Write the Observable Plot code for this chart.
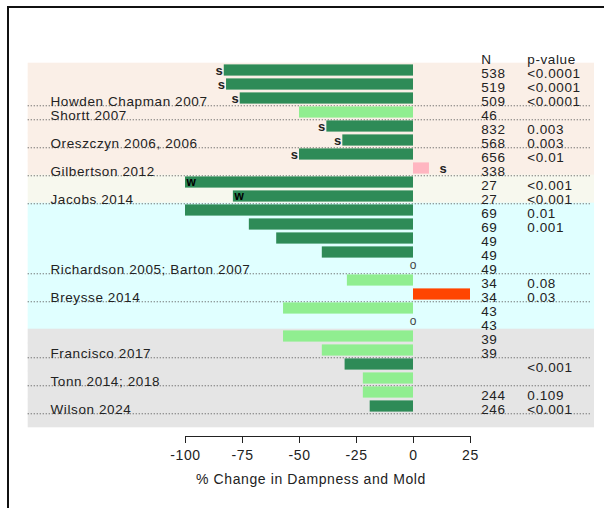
<!DOCTYPE html>
<html><head><meta charset="utf-8">
<script src="https://cdn.jsdelivr.net/npm/d3@7"></script>
<script src="https://cdn.jsdelivr.net/npm/@observablehq/plot@0.6"></script>
<style>
body{margin:0;background:#fff;}
#wrap{position:relative;width:604px;height:508px;overflow:hidden;}
#border{position:absolute;left:7px;top:6px;width:700px;height:700px;border-left:2px solid #111;border-top:2px solid #111;pointer-events:none;}
</style></head><body><div id="wrap"><div id="border"></div></div>
<script>
// ---- data ----
const rows = d3.range(1, 26);
const nValues = ["538","519","509","46","832","568","656","338","27","27","69","69","49","49","49","34","34","43","43","39","39","","","244","246"];
const pValues = ["<0.0001","<0.0001","<0.0001","","0.003","0.003","<0.01","","<0.001","<0.001","0.01","0.001","","","","0.08","0.03","","","","","<0.001","","0.109","<0.001"];
const changes = [-83,-82,-76,-50,-38,-31,-50,7,-100,-79,-100,-72,-60,-40,null,-29,25,-57,null,-57,-40,-30,-22,-22,-19];
const barKinds = ["sig","sig","sig","ns","sig","sig","sig","pos","sig","sig","sig","sig","sig","sig",null,"ns","neg","ns",null,"ns","ns","sig","ns","ns","sig"];
const studyLabels = ["Howden Chapman 2007","Shortt 2007","Oreszczyn 2006, 2006","Gilbertson 2012","Jacobs 2014","Richardson 2005; Barton 2007","Breysse 2014","Francisco 2017","Tonn 2014; 2018","Wilson 2024"];
const labelRows = [3,4,6,8,10,15,17,21,23,25];
const markerRows = [1,2,3,5,6,7,8,9,10,15,19];
const markerText = ["s","s","s","s","s","s","s","w","w","o","o"];
const panelNames = ["beige","cream","cyan","gray"];
const panelFirst = [1,9,11,20];
const panelLast = [8,10,19,26];
const xTicks = [-100,-75,-50,-25,0,25];
const headers = ["N","p-value"];

// ---- styling / layout ----
const kindColor = {sig:"#2e8b57", ns:"#90ee90", pos:"#ffb6c1", neg:"#ff4500"};
const panelColor = {beige:"#faefe7", cream:"#f7f8ee", cyan:"#e0ffff", gray:"#e5e5e5"};
const bgX1 = -169, bgX2 = 79.4;      // background span in data units
const labelX = -159.2, nX = 29.7, pX = 49.9;

const table = rows.map((r, i) => ({row: r, n: nValues[i], p: pValues[i], value: changes[i], kind: barKinds[i]}));
const bars = table.filter(d => d.value != null);
const bgRows = [];
panelNames.forEach((p, i) => { for (let r = panelFirst[i]; r <= panelLast[i]; r++) bgRows.push({row: r, panel: p}); });
const labels = studyLabels.map((s, i) => ({row: labelRows[i], text: s}));
const markers = markerRows.map((r, i) => ({row: r, text: markerText[i], value: changes[r - 1] ?? 0}));
const headerData = headers.map((h, i) => ({row: 0, text: h, x: i === 0 ? nX : pX}));

const txt = {fontSize: 13.5, fill: "#222", textAnchor: "start", dy: 3};

const chart = Plot.plot({
  width: 604, height: 508,
  marginLeft: 185, marginRight: 134, marginTop: 41.4, marginBottom: 74,
  style: {fontFamily: "'Liberation Sans', Arial, sans-serif", fontSize: "14px", letterSpacing: "0.6px", background: "transparent", color: "#222"},
  x: {domain: [-100, 25]},
  y: {type: "band", domain: d3.range(0, 27), padding: 0, axis: null},
  marks: [
    Plot.barX(bgRows, {y: "row", x1: bgX1, x2: bgX2, fill: d => panelColor[d.panel], insetTop: -0.3, insetBottom: -0.3}),
    Plot.ruleY(labelRows, {y: d => d, x1: bgX1, x2: bgX2 - 1.5, dy: 7.27, stroke: "#666", strokeWidth: 1, strokeDasharray: "1.2,1.8"}),
    Plot.barX(bars, {y: "row", x1: 0, x2: "value", fill: d => kindColor[d.kind], insetTop: 1.4, insetBottom: 1.4}),
    Plot.text(markers.filter(d => d.text === "s" && d.value < 0), {y: "row", x: "value", text: "text", textAnchor: "end", dx: -1, fontSize: 13, fontWeight: 600, fill: "#222"}),
    Plot.text(markers.filter(d => d.text === "s" && d.value > 0), {y: "row", x: "value", text: "text", textAnchor: "start", dx: 10, fontSize: 13, fontWeight: 600, fill: "#222"}),
    Plot.text(markers.filter(d => d.text === "w"), {y: "row", x: "value", text: "text", textAnchor: "start", dx: 1, fontSize: 12, fontWeight: "bold", fill: "#000"}),
    Plot.text(markers.filter(d => d.text === "o"), {y: "row", x: "value", text: "text", textAnchor: "middle", dy: -1, fontSize: 12, fill: "#444"}),
    Plot.text(labels, {...txt, y: "row", x: labelX, text: "text"}),
    Plot.text(table, {...txt, y: "row", x: nX, text: "n"}),
    Plot.text(table, {...txt, y: "row", x: pX, text: "p"}),
    Plot.text(headerData, {...txt, y: "row", x: "x", text: "text"}),
    Plot.frame({anchor: "bottom", dy: 2, stroke: "#222"}),
    Plot.axisX({ticks: xTicks, tickFormat: d => String(d), tickSize: 7, tickPadding: 7, dy: 2, fontSize: 14, label: null, stroke: "#222", fill: "#222"}),
    Plot.text(["% Change in Dampness and Mold"], {frameAnchor: "bottom", dx: -17, dy: 49, fontSize: 14, fill: "#222"})
  ]
});
document.getElementById("wrap").appendChild(chart);
</script></body></html>
